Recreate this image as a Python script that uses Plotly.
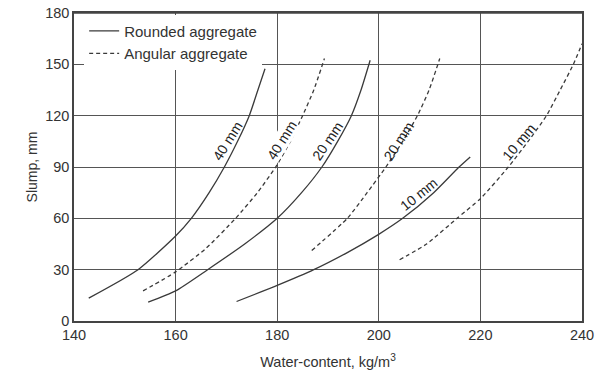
import plotly.graph_objects as go

# ---- data ----
r40_x = [142.9, 152.6, 160.0, 163.1, 166.6, 169.6, 172.2, 174.5, 176.2, 177.6]
r40_y = [13.4, 30, 49.7, 60, 75, 90, 105, 120, 135, 147.4]
a40_x = [153.6, 160.0, 166.0, 171.8, 176.1, 179.7, 182.6, 185.0, 187.2, 189.3]
a40_y = [17.6, 28.7, 42.5, 60, 75, 90, 105, 120, 135, 153.4]
r20_x = [154.6, 160.0, 166.3, 173.6, 180.0, 184.8, 188.8, 191.9, 194.6, 196.5, 198.3]
r20_y = [11, 17.6, 30, 45, 60, 75, 90, 105, 120, 135, 152.4]
a20_x = [186.8, 193.8, 197.7, 201.4, 204.7, 207.6, 209.9, 212.0]
a20_y = [41.2, 60, 75, 90, 105, 120, 135, 153.4]
r10_x = [172.0, 180.0, 187.2, 193.8, 199.9, 204.7, 210.8, 215.8, 218.0]
r10_y = [11.4, 20.8, 30, 40, 50.5, 60, 75, 90, 95.9]
a10_x = [204.1, 209.4, 215.4, 220.0, 225.5, 229.4, 233.0, 235.7, 238.3, 240.0]
a10_y = [35.8, 45, 60, 71.5, 90, 105, 120, 135, 150, 162]

labels = ["40 mm", "40 mm", "20 mm", "20 mm", "10 mm", "10 mm"]
label_x = [170.2, 180.9, 189.9, 203.9, 207.9, 227.5]
label_y = [105.3, 105.9, 105.3, 105.3, 74.5, 104.9]
label_angle = [-58, -58, -56, -57, -39, -50]
label_bg = [False, True, False, False, False, False]

x_ticks = [140, 160, 180, 200, 220, 240]
y_ticks = [0, 30, 60, 90, 120, 150, 180]

LINE = "#3a3a3a"
FONT = "Liberation Sans, Arial, sans-serif"

fig = go.Figure()
series = [
    (r40_x, r40_y, "solid", "Rounded aggregate", True),
    (a40_x, a40_y, "4px,3px", "Angular aggregate", True),
    (r20_x, r20_y, "solid", "Rounded aggregate", False),
    (a20_x, a20_y, "4px,3px", "Angular aggregate", False),
    (r10_x, r10_y, "solid", "Rounded aggregate", False),
    (a10_x, a10_y, "4px,3px", "Angular aggregate", False),
]
for xs, ys, dash, name, show in series:
    fig.add_trace(go.Scatter(
        x=xs, y=ys, mode="lines", name=name, legendgroup=name, showlegend=show,
        line=dict(color=LINE, width=1.3, dash=dash, shape="spline", smoothing=0.6),
    ))

for t, x, y, a, bg in zip(labels, label_x, label_y, label_angle, label_bg):
    fig.add_annotation(
        x=x, y=y, text=t, textangle=a, showarrow=False,
        font=dict(size=14, color="#222", family=FONT),
        bgcolor="white" if bg else "rgba(0,0,0,0)", borderpad=0,
    )

# top frame line of the plot box
fig.add_shape(type="line", xref="paper", yref="paper", x0=0, x1=1, y0=1, y1=1,
              line=dict(color="#444", width=1.5), layer="above")

fig.update_layout(
    width=609, height=370,
    margin=dict(l=74, r=27, t=13, b=49, autoexpand=False),
    paper_bgcolor="white", plot_bgcolor="white",
    font=dict(family=FONT, size=14, color="#333"),
    showlegend=True,
    legend=dict(
        x=0.02, y=0.995, xanchor="left", yanchor="top",
        bgcolor="white", borderwidth=0, font=dict(size=15, color="#333"),
        tracegroupgap=0, itemwidth=30,
    ),
)
fig.update_xaxes(
    range=[140, 240], tickvals=x_ticks, ticktext=[str(v) for v in x_ticks],
    showgrid=True, gridcolor="#555", gridwidth=1.2, zeroline=False,
    showline=True, linecolor="#444", linewidth=1.5, mirror=True,
    ticks="", tickfont=dict(size=14.5, color="#333"), automargin=False,
    title=dict(text="Water-content, kg/m<sup>3</sup>", font=dict(size=14.5, color="#333"), standoff=15),
)
fig.update_yaxes(
    range=[0, 180], tickvals=y_ticks, ticktext=[str(v) for v in y_ticks],
    showgrid=True, gridcolor="#555", gridwidth=1.2, zeroline=False,
    showline=True, linecolor="#444", linewidth=1.5, mirror=True,
    ticks="", tickfont=dict(size=14.5, color="#333"), automargin=False,
    title=dict(text="Slump, mm", font=dict(size=14, color="#333"), standoff=4),
)

fig.write_html("out.html", config={"displayModeBar": False},
               post_script="document.body.style.margin='0';")
